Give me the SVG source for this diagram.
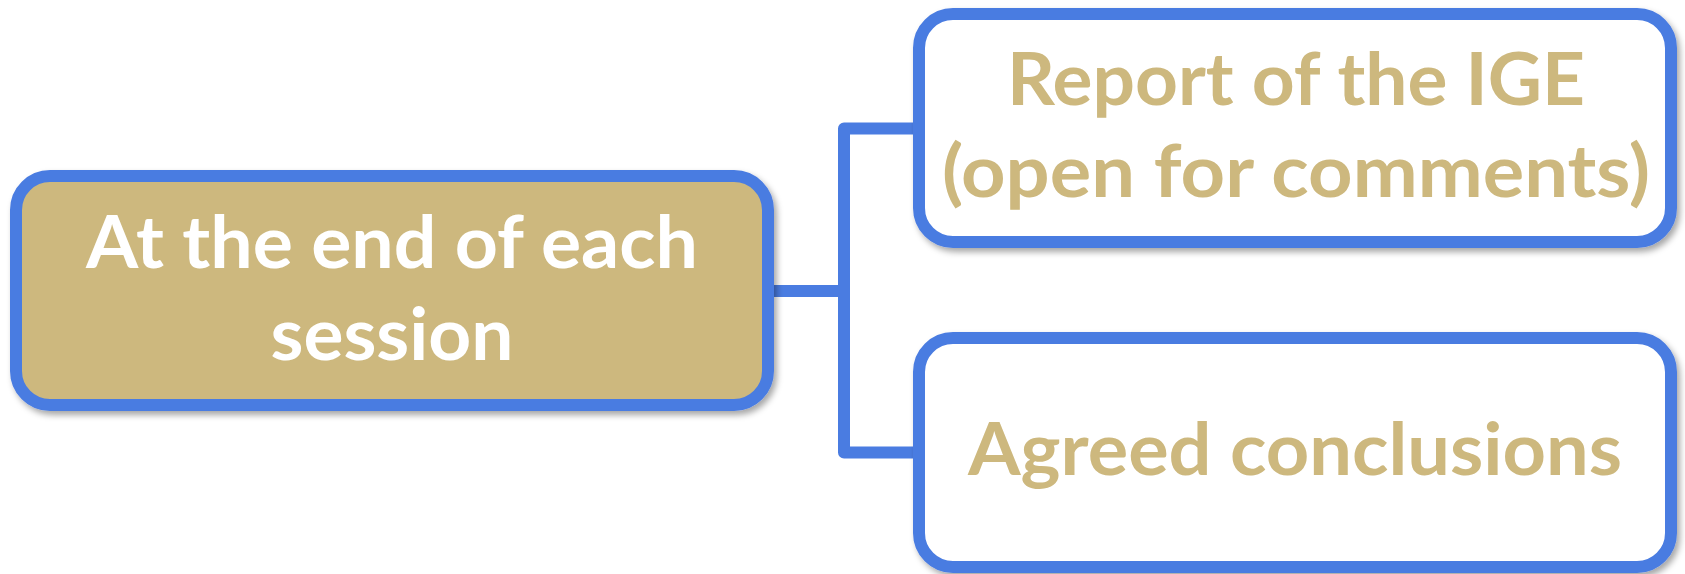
<svg xmlns="http://www.w3.org/2000/svg" width="1685" height="574" viewBox="0 0 1685 574">
  <defs>
    <filter id="shadow" x="-5%" y="-10%" width="110%" height="125%">
      <feDropShadow dx="3" dy="4" stdDeviation="3" flood-color="#000000" flood-opacity="0.35"/>
    </filter>
    <style>
      .box { stroke: #4A7CE1; stroke-width: 12; }
      .root { fill: #CDB87E; }
      .leaf { fill: #FFFFFF; }
      .conn { fill: none; stroke: #4A7CE1; stroke-width: 12; stroke-linejoin: round; }
      .t { font-family: Lato, "Open Sans", "Liberation Sans", sans-serif; font-weight: bold; font-size: 72px; text-anchor: middle; }
      .tw { fill: #FFFFFF; }
      .tg { fill: #CDB87E; }
    </style>
  </defs>
  <rect width="1685" height="574" fill="#FFFFFF"/>
  <g id="connectors">
    <path class="conn" d="M768 291 H844 M913 128.5 H844 V452.5 H913"/>
  </g>
  <g id="node-root">
    <rect class="box root" x="16" y="176" width="752" height="229" rx="34" ry="34" filter="url(#shadow)"/>
    <text class="t tw" x="392" y="268" textLength="612" lengthAdjust="spacingAndGlyphs">At the end of each</text>
    <text class="t tw" x="392" y="360" textLength="243" lengthAdjust="spacingAndGlyphs">session</text>
  </g>
  <g id="node-report">
    <rect class="box leaf" x="919" y="14" width="752" height="228" rx="34" ry="34" filter="url(#shadow)"/>
    <text class="t tg" x="1296" y="105" textLength="578" lengthAdjust="spacingAndGlyphs">Report of the IGE</text>
    <text class="t tg" x="1296" y="197" textLength="708" lengthAdjust="spacingAndGlyphs">(open for comments)</text>
  </g>
  <g id="node-conclusions">
    <rect class="box leaf" x="919" y="338" width="752" height="229" rx="34" ry="34" filter="url(#shadow)"/>
    <text class="t tg" x="1295" y="475" textLength="654" lengthAdjust="spacingAndGlyphs">Agreed conclusions</text>
  </g>
</svg>
